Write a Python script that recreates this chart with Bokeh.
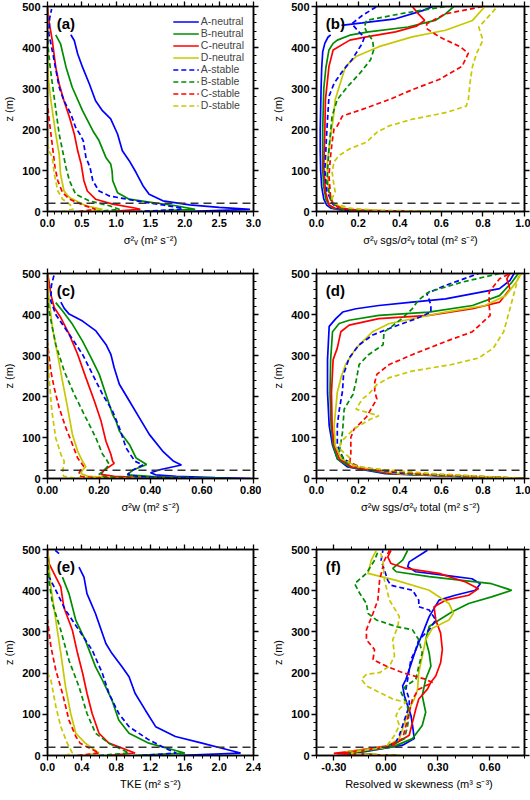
import numpy as np
from bokeh.plotting import figure
from bokeh.models import Range1d, FixedTicker, PrintfTickFormatter, LinearAxis, Span, Label
from bokeh.layouts import row, column
from bokeh.embed import file_html
from bokeh.resources import INLINE

NAN = float("nan")

SERIES = ["A-neutral", "B-neutral", "C-neutral", "D-neutral",
          "A-stable", "B-stable", "C-stable", "D-stable"]
BL_HEIGHT = 20
Y_TICKS = [0, 100, 200, 300, 400, 500]

# ---------------- panel (a): sigma^2_v ----------------
a_x_ticks = [0.0, 0.5, 1.0, 1.5, 2.0, 2.5, 3.0]
a_Aneu_z = [0, 5, 10, 16, 26, 42, 63, 95, 124, 148, 189, 226, 246, 270, 311, 352, 384, 417, 431]
a_Aneu_x = [2.0, 2.95, 2.5, 2.07, 1.68, 1.48, 1.39, 1.29, 1.19, 1.09, 1.02, 0.92, 0.80, 0.70, 0.61, 0.51, 0.44, 0.39, 0.34]
a_Bneu_z = [0, 5, 14, 22, 30, 46, 75, 99, 116, 132, 173, 197, 246, 303, 352, 409, 431]
a_Bneu_x = [1.4, 2.15, 1.87, 1.53, 1.19, 1.02, 0.95, 0.94, 0.92, 0.85, 0.75, 0.66, 0.51, 0.36, 0.27, 0.19, 0.12]
a_Cneu_z = [0, 5, 8, 18, 30, 50, 75, 116, 148, 189, 230, 270, 311, 352, 417, 466, 500]
a_Cneu_x = [0.9, 1.35, 1.29, 0.95, 0.70, 0.58, 0.53, 0.49, 0.44, 0.39, 0.32, 0.24, 0.17, 0.12, 0.07, 0.02, 0.0]
a_Dneu_z = [0, 5, 14, 34, 50, 91, 140, 189, 270, 327, 400, 500]
a_Dneu_x = [0.5, 0.80, 0.56, 0.32, 0.24, 0.19, 0.17, 0.12, 0.05, 0.01, 0.0, 0.0]
a_Aste_z = [0, 5, 8, 16, 26, 38, 50, 75, 107, 132, 173, 189, 205, 238, 270, 303, 392, 433, 470, 494]
a_Aste_x = [1.3, 1.92, 1.97, 1.68, 1.29, 0.90, 0.75, 0.66, 0.62, 0.56, 0.52, 0.47, 0.41, 0.34, 0.24, 0.17, 0.07, 0.02, 0.03, 0.06]
a_Bste_z = [0, 5, 14, 26, 42, 75, 107, 148, 189, 250, 300, 350, 400, 440]
a_Bste_x = [0.7, 1.05, 0.90, 0.61, 0.41, 0.32, 0.27, 0.22, 0.17, 0.12, 0.08, 0.04, 0.01, 0.0]
a_Cste_z = [0, 5, 8, 16, 30, 46, 75, 107, 148, 189, 230, 262]
a_Cste_x = [0.45, 0.70, 0.66, 0.51, 0.32, 0.22, 0.15, 0.11, 0.08, 0.05, 0.02, 0.0]
a_Dste_z = [0, 5, 10, 18, 30, 50, 91, 132, 148, 173, 200]
a_Dste_x = [0.2, 0.37, 0.36, 0.32, 0.22, 0.15, 0.10, 0.07, 0.02, 0.0, 0.0]

# ---------------- panel (b): sigma^2_v sgs / total ----------------
b_x_ticks = [0.0, 0.2, 0.4, 0.6, 0.8, 1.0]
b_Aneu_z = [0, 3, 8, 15, 30, 60, 100, 150, 200, 250, 300, 350, 390, 410, 425, 431, NAN, 454, 460, 470, 490, 500]
b_Aneu_x = [0.30, 0.12, 0.07, 0.05, 0.035, 0.025, 0.02, 0.018, 0.018, 0.02, 0.022, 0.025, 0.03, 0.04, 0.055, 0.068, NAN, 0.12, 0.22, 0.38, 0.51, 0.56]
b_Bneu_z = [0, 3, 8, 15, 30, 60, 100, 200, 300, 350, 380, 394, 410, 418, 430, 438, 450, 466, 482, 500]
b_Bneu_x = [0.35, 0.13, 0.08, 0.06, 0.045, 0.035, 0.03, 0.03, 0.035, 0.045, 0.055, 0.06, 0.08, 0.10, 0.16, 0.25, 0.44, 0.57, 0.62, 0.66]
b_Cneu_z = [0, 3, 8, 16, 48, 112, 193, 273, 354, 394, 418, 426, 438, 452, 466, 482, 500]
b_Cneu_x = [0.45, 0.15, 0.09, 0.06, 0.043, 0.035, 0.04, 0.043, 0.06, 0.08, 0.16, 0.24, 0.38, 0.48, 0.52, 0.49, 0.46]
b_Dneu_z = [0, 3, 8, 20, 48, 112, 193, 225, 273, 322, 354, 378, 402, 426, 442, 466, 500]
b_Dneu_x = [0.6, 0.2, 0.13, 0.08, 0.06, 0.05, 0.07, 0.08, 0.09, 0.12, 0.14, 0.19, 0.30, 0.46, 0.62, 0.75, 0.81]
b_Aste_z = [0, 3, 8, 20, 50, 100, 150, 200, 241, 281, 313, 342, 370, 410, 425, 440, 458, 478, 500]
b_Aste_x = [0.35, 0.15, 0.1, 0.075, 0.05, 0.04, 0.045, 0.05, 0.055, 0.06, 0.085, 0.125, 0.17, 0.22, 0.23, 0.2, 0.17, 0.22, 0.29]
b_Bste_z = [0, 3, 8, 24, 72, 153, 233, 273, 305, 338, 370, 394, 418, 434, 450, 466, 482, 500]
b_Bste_x = [0.4, 0.18, 0.11, 0.07, 0.05, 0.06, 0.075, 0.10, 0.15, 0.21, 0.26, 0.275, 0.27, 0.245, 0.23, 0.24, 0.40, 0.62]
b_Cste_z = [0, 3, 8, 16, 32, 88, 137, 169, 201, 209, 233, 249, 273, 297, 322, 354, 386, 402, 426, 446, 458, 482, 500]
b_Cste_x = [0.5, 0.2, 0.12, 0.084, 0.068, 0.06, 0.068, 0.075, 0.084, 0.10, 0.125, 0.22, 0.35, 0.46, 0.59, 0.70, 0.73, 0.69, 0.59, 0.53, 0.53, 0.62, 0.80]
b_Dste_z = [0, 3, 8, 20, 32, 48, 64, 96, 121, 137, 153, 169, 193, 209, 225, 241, 257, 273, 322, 354, 386, 418, 450, 466, 500]
b_Dste_x = [0.6, 0.3, 0.16, 0.084, 0.075, 0.09, 0.084, 0.075, 0.084, 0.11, 0.16, 0.24, 0.29, 0.35, 0.46, 0.62, 0.72, 0.73, 0.74, 0.75, 0.77, 0.80, 0.78, 0.81, 0.87]

# ---------------- panel (c): sigma^2_w ----------------
c_x_ticks = [0.0, 0.2, 0.4, 0.6, 0.8]
c_Aneu_z = [0, 2, 5, 9, 14, 22, 33, 42, 67, 107, 148, 189, 230, 270, 303, 327, 360, 384, 401, 415, 430]
c_Aneu_x = [0.79, 0.65, 0.5, 0.42, 0.40, 0.44, 0.52, 0.49, 0.447, 0.396, 0.357, 0.318, 0.279, 0.259, 0.246, 0.227, 0.188, 0.136, 0.084, 0.065, 0.052]
c_Bneu_z = [0, 2, 5, 9, 20, 34, 50, 83, 116, 140, 156, 205, 254, 295, 335, 376, 409, 429]
c_Bneu_x = [0.72, 0.55, 0.40, 0.31, 0.33, 0.385, 0.344, 0.318, 0.279, 0.266, 0.253, 0.227, 0.201, 0.169, 0.136, 0.097, 0.058, 0.032]
c_Cneu_z = [0, 2, 5, 10, 20, 37, 42, 59, 91, 140, 189, 246, 303, 352, 392, 417, 449, 480, 500]
c_Cneu_x = [0.55, 0.38, 0.26, 0.207, 0.22, 0.259, 0.253, 0.246, 0.227, 0.208, 0.182, 0.149, 0.117, 0.084, 0.052, 0.026, 0.013, 0.006, 0.0]
c_Dneu_z = [0, 2, 5, 12, 20, 29, 42, 67, 107, 173, 238, 303, 368, 449, 500]
c_Dneu_x = [0.4, 0.25, 0.16, 0.13, 0.135, 0.149, 0.136, 0.117, 0.097, 0.078, 0.058, 0.039, 0.019, 0.004, 0.0]
c_Aste_z = [0, 2, 5, 10, 20, 33, 42, 60, 75, 124, 164, 205, 254, 303, 352, 400, 433, 470, 498]
c_Aste_x = [0.6, 0.45, 0.35, 0.311, 0.33, 0.37, 0.34, 0.32, 0.305, 0.279, 0.253, 0.214, 0.175, 0.136, 0.084, 0.032, 0.013, 0.015, 0.026]
c_Bste_z = [0, 2, 5, 10, 20, 34, 50, 59, 99, 148, 205, 262, 327, 409, 440]
c_Bste_x = [0.45, 0.30, 0.22, 0.20, 0.22, 0.24, 0.225, 0.214, 0.188, 0.149, 0.104, 0.065, 0.032, 0.006, 0.0]
c_Cste_z = [0, 2, 5, 10, 20, 30, 50, 83, 124, 173, 221, 262, 330]
c_Cste_x = [0.3, 0.18, 0.13, 0.12, 0.128, 0.14, 0.117, 0.097, 0.071, 0.045, 0.026, 0.013, 0.0]
c_Dste_z = [0, 2, 5, 10, 20, 42, 59, 99, 164, 246, 330]
c_Dste_x = [0.2, 0.1, 0.065, 0.058, 0.06, 0.065, 0.052, 0.032, 0.017, 0.006, 0.0]

# ---------------- panel (d): sigma^2_w sgs / total ----------------
d_x_ticks = [0.0, 0.2, 0.4, 0.6, 0.8, 1.0]
d_Aneu_z = [0, 4, 12, 28, 48, 81, 129, 210, 290, 371, 390, 406, 414, 422, 430, 438, 463, 483, 500]
d_Aneu_x = [1.0, 0.73, 0.33, 0.15, 0.10, 0.077, 0.061, 0.053, 0.053, 0.061, 0.093, 0.126, 0.19, 0.30, 0.46, 0.62, 0.88, 0.93, 0.95]
d_Bneu_z = [0, 4, 12, 28, 48, 81, 129, 210, 290, 358, 378, 386, 398, 406, 422, 446, 479, 500]
d_Bneu_x = [1.0, 0.75, 0.35, 0.16, 0.1, 0.08, 0.07, 0.065, 0.068, 0.077, 0.109, 0.157, 0.30, 0.54, 0.75, 0.88, 0.94, 0.97]
d_Cneu_z = [0, 4, 12, 28, 48, 81, 129, 210, 290, 318, 358, 374, 390, 398, 414, 430, 462, 487, 500]
d_Cneu_x = [1.0, 0.77, 0.37, 0.17, 0.11, 0.085, 0.075, 0.072, 0.08, 0.10, 0.117, 0.157, 0.30, 0.54, 0.75, 0.88, 0.93, 0.915, 0.93]
d_Dneu_z = [0, 4, 12, 28, 48, 81, 129, 210, 250, 278, 318, 358, 378, 406, 422, 446, 479, 500]
d_Dneu_x = [1.0, 0.8, 0.4, 0.2, 0.12, 0.09, 0.085, 0.10, 0.12, 0.14, 0.19, 0.27, 0.35, 0.62, 0.81, 0.91, 0.96, 0.985]
d_Aste_z = [0, 4, 12, 28, 48, 81, 129, 169, 213, 254, 294, 326, 350, 366, 390, 406, 422, 439, 451, 471, 500]
d_Aste_x = [1.0, 0.8, 0.42, 0.2, 0.13, 0.1, 0.1, 0.11, 0.125, 0.13, 0.157, 0.205, 0.27, 0.35, 0.48, 0.55, 0.55, 0.54, 0.53, 0.62, 0.78]
d_Bste_z = [0, 4, 12, 28, 40, 65, 113, 169, 205, 237, 278, 302, 326, 358, 366, 390, 414, 435, 455, 479, 500]
d_Bste_x = [1.0, 0.82, 0.45, 0.2, 0.14, 0.11, 0.125, 0.133, 0.175, 0.19, 0.205, 0.25, 0.32, 0.325, 0.35, 0.41, 0.46, 0.49, 0.54, 0.70, 0.88]
d_Cste_z = [0, 4, 12, 25, 40, 60, 81, 100, 120, 150, 194, 213, 234, 254, 278, 302, 334, 358, 398, 422, 455, 487, 500]
d_Cste_x = [1.0, 0.83, 0.5, 0.22, 0.16, 0.165, 0.165, 0.165, 0.18, 0.24, 0.29, 0.28, 0.28, 0.29, 0.35, 0.46, 0.62, 0.75, 0.835, 0.83, 0.83, 0.88, 0.93]
d_Dste_z = [0, 4, 12, 25, 32, 40, 48, 73, 89, 121, 145, 153, 169, 194, 205, 229, 246, 262, 278, 294, 318, 358, 414, 471, 500]
d_Dste_x = [1.0, 0.85, 0.55, 0.25, 0.18, 0.15, 0.165, 0.11, 0.117, 0.18, 0.26, 0.3, 0.19, 0.22, 0.25, 0.29, 0.35, 0.46, 0.65, 0.78, 0.85, 0.9, 0.93, 0.96, 0.975]

# ---------------- panel (e): TKE ----------------
e_x_ticks = [0.0, 0.4, 0.8, 1.2, 1.6, 2.0, 2.4]
e_Aneu_z = [0, 6, 14, 30, 46, 70, 110, 151, 191, 215, 248, 272, 344, 393, 433, 457]
e_Aneu_x = [1.5, 2.25, 2.1, 1.80, 1.49, 1.26, 1.14, 1.02, 0.95, 0.87, 0.75, 0.68, 0.56, 0.46, 0.425, 0.367]
e_Bneu_z = [0, 6, 30, 54, 86, 135, 183, 215, 280, 328, 393, 433]
e_Bneu_x = [1.0, 1.6, 1.18, 0.95, 0.83, 0.75, 0.64, 0.56, 0.44, 0.33, 0.25, 0.174]
e_Cneu_z = [0, 6, 30, 54, 102, 151, 199, 248, 304, 360, 409, 433, 465, 500]
e_Cneu_x = [0.7, 1.02, 0.715, 0.60, 0.52, 0.46, 0.41, 0.35, 0.29, 0.19, 0.155, 0.097, 0.02, 0.0]
e_Dneu_z = [0, 6, 30, 54, 102, 167, 248, 328, 409, 500]
e_Dneu_x = [0.4, 0.6, 0.44, 0.33, 0.27, 0.21, 0.155, 0.097, 0.04, 0.0]
e_Aste_z = [0, 6, 14, 38, 70, 102, 151, 199, 256, 304, 353, 409, 433, NAN, 490, 500]
e_Aste_x = [1.1, 1.5, 1.41, 1.18, 0.95, 0.83, 0.715, 0.64, 0.52, 0.367, 0.21, 0.077, 0.02, NAN, 0.135, 0.077]
e_Bste_z = [0, 6, 30, 54, 102, 167, 231, 304, 369, 420, 480]
e_Bste_x = [0.6, 0.95, 0.715, 0.56, 0.46, 0.367, 0.25, 0.155, 0.058, 0.02, 0.0]
e_Cste_z = [0, 6, 30, 46, 86, 151, 207, 264, 330]
e_Cste_x = [0.35, 0.6, 0.38, 0.33, 0.25, 0.174, 0.097, 0.04, 0.0]
e_Dste_z = [0, 6, 30, 70, 119, 183, 200]
e_Dste_x = [0.2, 0.29, 0.23, 0.155, 0.097, 0.04, 0.0]

# ---------------- panel (f): resolved w skewness ----------------
f_x_ticks = [-0.3, 0.0, 0.3, 0.6]
f_Aneu_z = [0, 2, 5, 9, 25, 41, 73, 97, 121, 145, 169, 185, 209, 233, 257, 305, 337, 377, 389, 401, 417, 429, 437, 446, 458, 470, 498]
f_Aneu_x = [0.05, -0.1, -0.28, -0.13, 0.097, 0.164, 0.154, 0.145, 0.126, 0.107, 0.097, 0.116, 0.135, 0.154, 0.173, 0.22, 0.25, 0.307, 0.40, 0.516, 0.545, 0.497, 0.345, 0.173, 0.126, 0.135, 0.24]
f_Bneu_z = [0, 2, 5, 9, 21, 41, 73, 105, 145, 185, 217, 249, 281, 313, 329, 349, 369, 385, 401, 417, 425, 434, 446, 454, 474, 498]
f_Bneu_x = [0.08, -0.05, -0.2, -0.15, 0.04, 0.154, 0.21, 0.23, 0.21, 0.23, 0.26, 0.25, 0.23, 0.25, 0.307, 0.383, 0.478, 0.61, 0.726, 0.61, 0.44, 0.25, 0.06, 0.04, 0.097, 0.126]
f_Cneu_z = [0, 2, 5, 9, 25, 49, 81, 113, 137, 161, 177, 193, 225, 257, 297, 329, 361, 377, 389, 405, 421, 442, 454, 466, 482, 498]
f_Cneu_x = [0.05, -0.12, -0.3, -0.227, 0.04, 0.135, 0.154, 0.173, 0.19, 0.24, 0.259, 0.288, 0.316, 0.326, 0.316, 0.288, 0.278, 0.345, 0.478, 0.535, 0.46, 0.307, 0.116, 0.03, 0.011, 0.03]
f_Dneu_z = [0, 2, 5, 9, 21, 41, 65, 89, 113, 137, 161, 201, 241, 281, 309, 329, 345, 369, 401, 425, 442, 474, 498]
f_Dneu_x = [0.1, -0.05, -0.2, -0.23, 0.0, 0.078, 0.097, 0.116, 0.135, 0.164, 0.183, 0.19, 0.21, 0.23, 0.269, 0.364, 0.39, 0.364, 0.25, 0.06, -0.103, -0.084, -0.055]
f_Aste_z = [0, 2, 5, 9, 20, 33, 49, 73, 97, 121, 137, 161, 185, 209, 233, 257, 281, 305, 329, 353, 361, 377, 401, 413, 425, 450, 474, 498]
f_Aste_x = [0.05, -0.08, -0.22, -0.15, 0.0, 0.059, 0.078, 0.097, 0.116, 0.135, 0.135, 0.116, 0.126, 0.135, 0.145, 0.173, 0.19, 0.25, 0.288, 0.25, 0.19, 0.19, 0.154, 0.03, 0.011, -0.008, -0.027, -0.017]
f_Bste_z = [0, 2, 5, 9, 20, 41, 73, 105, 129, 153, 169, 185, 217, 249, 281, 305, 313, 329, 345, 369, 393, 417, 442, 474, 494]
f_Bste_x = [0.06, -0.06, -0.22, -0.18, 0.0, 0.107, 0.126, 0.135, 0.116, 0.088, 0.116, 0.173, 0.19, 0.21, 0.19, 0.154, 0.06, -0.055, -0.103, -0.112, -0.15, -0.18, -0.112, -0.065, -0.046]
f_Cste_z = [0, 2, 5, 9, 20, 41, 73, 105, 137, 161, 177, 185, 201, 217, 233, 257, 281, 305, 345, 377, 425, 474, 498]
f_Cste_x = [0.06, -0.1, -0.25, -0.2, 0.0, 0.097, 0.116, 0.135, 0.154, 0.19, 0.269, 0.23, 0.097, 0.002, -0.074, -0.065, -0.112, -0.112, -0.074, -0.046, -0.036, -0.008, 0.021]
f_Dste_z = [0, 2, 5, 9, 20, 49, 73, 97, 113, 129, 137, 153, 169, 185, 197, 201, 217, 241, 281, 313, 337, 377, 425, 474, 498]
f_Dste_x = [0.09, -0.05, -0.2, -0.18, 0.0, 0.05, 0.078, 0.059, 0.078, 0.116, 0.04, -0.036, -0.112, -0.141, -0.112, -0.036, 0.021, 0.05, 0.04, 0.069, 0.078, 0.021, -0.008, -0.017, -0.036]

COLORS = ["#0000ff", "#008c00", "#ff0000", "#c8c800"] * 2
DASHES = ["solid"] * 4 + ["5 3"] * 4
FONT = "Liberation Sans"

COL_BORDERS = [(45, 8), (55, 6)]          # (left, right) per column
COL_FRAME_W = [206, 208]
ROW_BORDERS = [(6, 46), (16, 52), (19, 41)]  # (top, bottom) per row
ROW_FRAME_H = [205, 205, 206]


def style_axis(ax, labels=True):
    ax.axis_line_width = 1.5
    ax.axis_line_color = "black"
    ax.major_tick_out = 5
    ax.major_tick_in = 0
    ax.minor_tick_out = 3
    ax.minor_tick_in = 0
    ax.major_tick_line_width = 1.3
    ax.minor_tick_line_width = 1
    ax.major_tick_line_color = "black"
    ax.minor_tick_line_color = "black"
    if labels:
        ax.major_label_text_font = FONT
        ax.major_label_text_font_style = "bold"
        ax.major_label_text_font_size = "11px"
        ax.major_label_text_color = "black"
        ax.major_label_standoff = 2
        ax.axis_label_text_font = FONT
        ax.axis_label_text_font_style = "normal"
        ax.axis_label_text_font_size = "11px"
        ax.axis_label_text_color = "black"
        ax.axis_label_standoff = 4


def panel(letter, xr, xticks, xminor_step, fmt, xlabel, data, col, rowi, legend=False):
    top_b, bot_b = ROW_BORDERS[rowi]
    left, right = COL_BORDERS[col]
    p = figure(frame_width=COL_FRAME_W[col], frame_height=ROW_FRAME_H[rowi],
               x_range=Range1d(*xr), y_range=Range1d(0, 500),
               output_backend="svg", toolbar_location=None,
               min_border_left=left, min_border_right=right,
               min_border_top=top_b, min_border_bottom=bot_b)
    p.xgrid.visible = False
    p.ygrid.visible = False
    p.outline_line_color = "black"
    p.outline_line_width = 1.5
    p.background_fill_color = "white"
    p.border_fill_color = "white"

    xminor = list(np.round(np.arange(xr[0], xr[1] + 1e-9, xminor_step), 4))
    yminor = list(range(0, 501, 20))

    p.xaxis.ticker = FixedTicker(ticks=xticks, minor_ticks=xminor)
    p.yaxis.ticker = FixedTicker(ticks=Y_TICKS, minor_ticks=yminor)
    p.xaxis.formatter = PrintfTickFormatter(format=fmt)
    p.xaxis.axis_label = xlabel
    p.yaxis.axis_label = "z (m)"
    style_axis(p.xaxis[0])
    style_axis(p.yaxis[0])

    top = LinearAxis(ticker=FixedTicker(ticks=xticks, minor_ticks=xminor),
                     major_label_overrides={t: "" for t in xticks})
    rgt = LinearAxis(ticker=FixedTicker(ticks=Y_TICKS, minor_ticks=yminor),
                     major_label_overrides={t: "" for t in Y_TICKS})
    for ax in (top, rgt):
        style_axis(ax, labels=False)
        ax.major_label_text_font_size = "0px"
        ax.major_label_standoff = 0
    p.add_layout(top, "above")
    p.add_layout(rgt, "right")

    for i, (zs, xs) in enumerate(data):
        kw = dict(line_color=COLORS[i], line_width=1.7, line_dash=DASHES[i])
        if legend:
            kw["legend_label"] = SERIES[i]
        p.line(xs, zs, **kw)

    p.add_layout(Span(location=BL_HEIGHT, dimension="width", line_color="#333333",
                      line_width=1.4, line_dash="8 5"))

    p.add_layout(Label(x=xr[0] + 0.045 * (xr[1] - xr[0]), y=458, text=letter,
                       text_font=FONT, text_font_style="bold", text_font_size="15px",
                       text_baseline="middle", text_color="black"))

    if legend:
        lg = p.legend[0]
        lg.location = "top_right"
        lg.border_line_alpha = 0
        lg.background_fill_alpha = 0
        lg.label_text_font = FONT
        lg.label_text_font_size = "10.5px"
        lg.glyph_width = 26
        lg.glyph_height = 11
        lg.label_height = 11
        lg.label_standoff = 2
        lg.spacing = 0
        lg.padding = 2
        lg.margin = 7
    return p


pa = panel("(a)", (0, 3.0), a_x_ticks, 0.1, "%.1f", "σ²ᵥ (m² s⁻²)",
           [(a_Aneu_z, a_Aneu_x), (a_Bneu_z, a_Bneu_x), (a_Cneu_z, a_Cneu_x), (a_Dneu_z, a_Dneu_x),
            (a_Aste_z, a_Aste_x), (a_Bste_z, a_Bste_x), (a_Cste_z, a_Cste_x), (a_Dste_z, a_Dste_x)],
           0, 0, legend=True)
pb = panel("(b)", (0, 1.0), b_x_ticks, 0.05, "%.1f", "σ²ᵥ sgs/σ²ᵥ total (m² s⁻²)",
           [(b_Aneu_z, b_Aneu_x), (b_Bneu_z, b_Bneu_x), (b_Cneu_z, b_Cneu_x), (b_Dneu_z, b_Dneu_x),
            (b_Aste_z, b_Aste_x), (b_Bste_z, b_Bste_x), (b_Cste_z, b_Cste_x), (b_Dste_z, b_Dste_x)],
           1, 0)
pc = panel("(c)", (0, 0.8), c_x_ticks, 0.05, "%.2f", "σ²w (m² s⁻²)",
           [(c_Aneu_z, c_Aneu_x), (c_Bneu_z, c_Bneu_x), (c_Cneu_z, c_Cneu_x), (c_Dneu_z, c_Dneu_x),
            (c_Aste_z, c_Aste_x), (c_Bste_z, c_Bste_x), (c_Cste_z, c_Cste_x), (c_Dste_z, c_Dste_x)],
           0, 1)
pd_ = panel("(d)", (0, 1.0), d_x_ticks, 0.05, "%.1f", "σ²w sgs/σ²ᵥ total (m² s⁻²)",
            [(d_Aneu_z, d_Aneu_x), (d_Bneu_z, d_Bneu_x), (d_Cneu_z, d_Cneu_x), (d_Dneu_z, d_Dneu_x),
             (d_Aste_z, d_Aste_x), (d_Bste_z, d_Bste_x), (d_Cste_z, d_Cste_x), (d_Dste_z, d_Dste_x)],
            1, 1)
pe = panel("(e)", (0, 2.4), e_x_ticks, 0.1, "%.1f", "TKE (m² s⁻²)",
           [(e_Aneu_z, e_Aneu_x), (e_Bneu_z, e_Bneu_x), (e_Cneu_z, e_Cneu_x), (e_Dneu_z, e_Dneu_x),
            (e_Aste_z, e_Aste_x), (e_Bste_z, e_Bste_x), (e_Cste_z, e_Cste_x), (e_Dste_z, e_Dste_x)],
           0, 2)
pf = panel("(f)", (-0.4, 0.8), f_x_ticks, 0.1, "%.2f", "Resolved w skewness  (m³ s⁻³)",
           [(f_Aneu_z, f_Aneu_x), (f_Bneu_z, f_Bneu_x), (f_Cneu_z, f_Cneu_x), (f_Dneu_z, f_Dneu_x),
            (f_Aste_z, f_Aste_x), (f_Bste_z, f_Bste_x), (f_Cste_z, f_Cste_x), (f_Dste_z, f_Dste_x)],
           1, 2)

layout = column(row(pa, pb), row(pc, pd_), row(pe, pf))

with open("out.html", "w") as fh:
    fh.write(file_html(layout, INLINE))
